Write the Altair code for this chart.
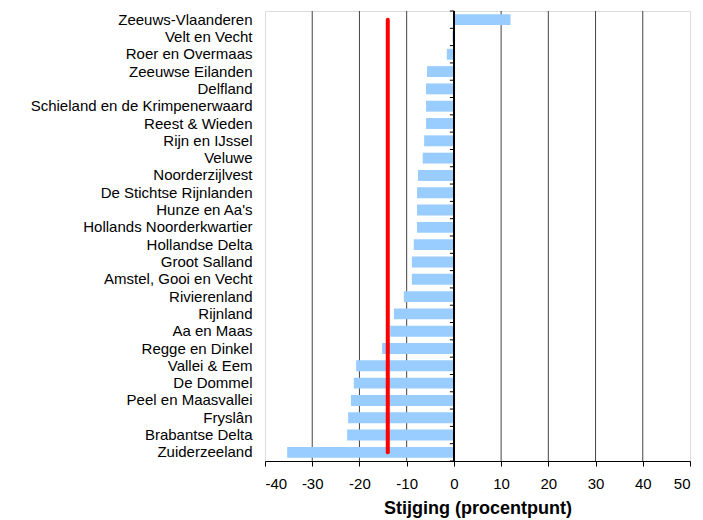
import altair as alt
import pandas as pd

names = [
    "Zeeuws-Vlaanderen", "Velt en Vecht", "Roer en Overmaas", "Zeeuwse Eilanden",
    "Delfland", "Schieland en de Krimpenerwaard", "Reest & Wieden", "Rijn en IJssel",
    "Veluwe", "Noorderzijlvest", "De Stichtse Rijnlanden", "Hunze en Aa's",
    "Hollands Noorderkwartier", "Hollandse Delta", "Groot Salland",
    "Amstel, Gooi en Vecht", "Rivierenland", "Rijnland", "Aa en Maas",
    "Regge en Dinkel", "Vallei & Eem", "De Dommel", "Peel en Maasvallei",
    "Fryslân", "Brabantse Delta", "Zuiderzeeland",
]
values = [
    12.0, -0.3, -1.5, -5.7, -5.9, -5.9, -5.9, -6.3, -6.6, -7.6, -7.8, -7.8, -7.8,
    -8.5, -8.9, -8.9, -10.6, -12.7, -13.5, -15.2, -20.7, -21.2, -21.8, -22.4,
    -22.6, -35.3,
]
average = -14.0
x_ticks = [-40, -30, -20, -10, 0, 10, 20, 30, 40, 50]
grid_values = [-30, -20, -10, 10, 20, 30, 40]

FONT = "Liberation Sans"
PLOT_W = 425
PLOT_H = 450
STEP = PLOT_H / len(names)
TICK_LEN = 4 * 90 / PLOT_W  # 4 px expressed in data units

df = pd.DataFrame({"name": names, "value": values})
grid_df = pd.DataFrame({"g": grid_values})
avg_df = pd.DataFrame({"x": [average], "top": [names[0]], "bottom": [names[-1]]})
tick_df = pd.DataFrame({"name": names, "x0": -TICK_LEN, "x1": 0.0})
last_df = pd.DataFrame({"name": [names[-1]], "x0": [-TICK_LEN], "x1": [0.0]})

xscale = alt.Scale(domain=[-40, 50], nice=False, zero=False)
yscale = alt.Scale(domain=names, paddingInner=0.37, paddingOuter=0.185)

x_axis = alt.Axis(
    values=x_ticks, grid=False, title="Stijging (procentpunt)",
    labelExpr="'' + datum.value", labelFont=FONT, labelFontSize=15,
    labelColor="black", labelPadding=10, tickColor="black", tickSize=5,
    domainColor="black", domainWidth=1, titleFont=FONT, titleFontSize=18,
    titleFontWeight="bold", titleColor="black", titlePadding=8,
)

grid = alt.Chart(grid_df).mark_rule(color="#444444", strokeWidth=1).encode(
    x=alt.X("g:Q", scale=xscale, axis=x_axis)
)

bars = alt.Chart(df).mark_bar(color="#99CCFF").encode(
    x=alt.X("value:Q", scale=xscale, axis=x_axis),
    y=alt.Y("name:N", scale=yscale, axis=alt.Axis(
        orient="left", title=None, domain=False, ticks=False, labelPadding=13,
        labelFont=FONT, labelFontSize=15, labelColor="black", labelLimit=0,
        grid=False,
    )),
)

zero_line = alt.Chart(df).mark_rule(color="black", strokeWidth=1).encode(
    x=alt.datum(0, scale=xscale)
)

cat_ticks = alt.Chart(tick_df).mark_rule(
    color="black", strokeWidth=1, yOffset=-STEP / 2
).encode(
    x=alt.X("x0:Q", scale=xscale, axis=x_axis),
    x2="x1:Q",
    y=alt.Y("name:N", scale=yscale),
)
last_tick = alt.Chart(last_df).mark_rule(
    color="black", strokeWidth=1, yOffset=STEP / 2
).encode(
    x=alt.X("x0:Q", scale=xscale, axis=x_axis),
    x2="x1:Q",
    y=alt.Y("name:N", scale=yscale),
)

avg_line = alt.Chart(avg_df).mark_rule(
    color="#FF0000", strokeWidth=4, strokeCap="round"
).encode(
    x=alt.X("x:Q", scale=xscale, axis=x_axis),
    y=alt.Y("top:N", scale=yscale),
    y2="bottom:N",
)

chart = alt.layer(grid, bars, zero_line, cat_ticks, last_tick, avg_line).properties(
    width=PLOT_W, height=PLOT_H,
    autosize=alt.AutoSizeParams(type="none"),
    padding={"left": 257, "top": 3, "right": 5, "bottom": 58},
).configure_view(
    stroke="#888888", strokeWidth=2
).configure(background="white")

chart.save("out.html", embed_options={"renderer": "svg", "actions": False})
